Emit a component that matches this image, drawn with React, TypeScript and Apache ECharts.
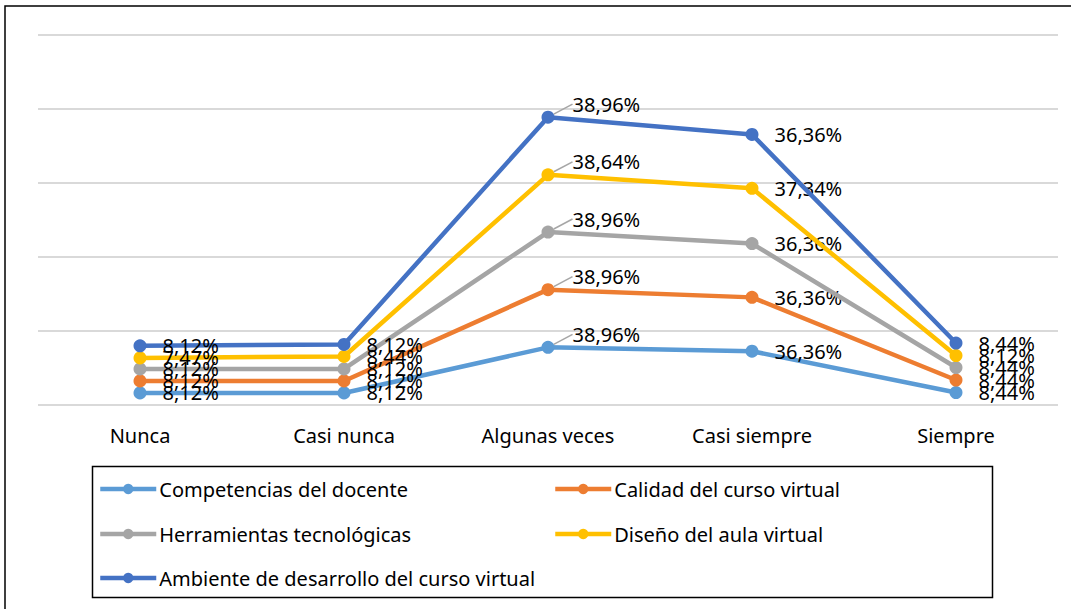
import React, { useEffect, useRef } from "react";
import * as echarts from "echarts";

const categories = ["Nunca", "Casi nunca", "Algunas veces", "Casi siempre", "Siempre"];
const seriesNames = [
  "Competencias del docente",
  "Calidad del curso virtual",
  "Herramientas tecnológicas",
  "Diseño del aula virtual",
  "Ambiente de desarrollo del curso virtual",
];
const competencias = [8.12, 8.12, 38.96, 36.36, 8.44];
const calidad = [8.12, 8.12, 38.96, 36.36, 8.44];
const herramientas = [8.12, 8.12, 38.96, 36.36, 8.44];
const diseno = [7.47, 8.44, 38.64, 37.34, 8.12];
const ambiente = [8.12, 8.12, 38.96, 36.36, 8.44];
const seriesValues = [competencias, calidad, herramientas, diseno, ambiente];
const colors = ["#5B9BD5", "#ED7D31", "#A5A5A5", "#FFC000", "#4472C4"];

const FONT = "'Noto Sans', sans-serif";

export default function App() {
  const ref = useRef<HTMLDivElement>(null);
  useEffect(() => {
    if (!ref.current) return;
    const chart = echarts.init(ref.current, null, { renderer: "svg" });
    const legendPos = [
      { left: 98, top: 479 },
      { left: 553, top: 479 },
      { left: 98, top: 524 },
      { left: 553, top: 524 },
      { left: 98, top: 568 },
    ];
    chart.setOption({
      animation: false,
      backgroundColor: "#ffffff",
      grid: { left: 38, right: 17, top: 35, bottom: 204 },
      xAxis: {
        type: "category",
        data: categories,
        boundaryGap: true,
        axisLine: { show: false },
        axisTick: { show: false },
        axisLabel: { color: "#000", fontSize: 20, fontFamily: FONT, margin: 20 },
      },
      yAxis: {
        type: "value",
        min: 0,
        max: 250,
        interval: 50,
        axisLabel: { show: false },
        axisLine: { show: false },
        axisTick: { show: false },
        splitLine: { lineStyle: { color: "#D9D9D9", width: 2 } },
      },
      legend: seriesNames.map((n, i) => ({
        data: [n],
        left: legendPos[i].left,
        top: legendPos[i].top,
        itemWidth: 56,
        itemHeight: 13,
        itemGap: 4,
        lineStyle: { width: 4.5 },
        textStyle: { color: "#000", fontSize: 20, fontFamily: FONT, padding: [0, 0, 0, -2] },
        padding: 0,
      })),
      graphic: [
        {
          type: "polyline",
          shape: { points: [[5, 609], [5, 6], [1071, 6]] },
          style: { stroke: "#000", lineWidth: 1.5, fill: "none" },
          silent: true,
        },
        {
          type: "rect",
          shape: { x: 92.5, y: 466.5, width: 900, height: 131 },
          style: { stroke: "#000", lineWidth: 1.5, fill: "none" },
          silent: true,
        },
      ],
      series: seriesValues.map((vals, i) => ({
        name: seriesNames[i],
        type: "line",
        stack: "total",
        data: vals.map((v, j) =>
          j === 2
            ? { value: v, labelLine: { show: true } }
            : { value: v, labelLine: { show: false } }
        ),
        symbol: "circle",
        symbolSize: 13,
        color: colors[i],
        lineStyle: { width: 4.5, color: colors[i] },
        itemStyle: { color: colors[i] },
        label: {
          show: true,
          position: "right",
          distance: 16,
          color: "#000",
          fontSize: 20,
          fontFamily: FONT,
          formatter: (p: any) => p.value.toFixed(2).replace(".", ",") + "%",
        },
        labelLayout: (p: any) => (p.dataIndex === 2 ? { dy: -13, dx: 2 } : {}),
        labelLine: { show: false, lineStyle: { color: "#A6A6A6", width: 1.5 }, length2: 0 },
        z: 2 + i,
      })),
    });
    return () => chart.dispose();
  }, []);
  return (
    <div
      ref={ref}
      style={{ position: "absolute", left: 0, top: 0, width: 1075, height: 609 }}
    />
  );
}
